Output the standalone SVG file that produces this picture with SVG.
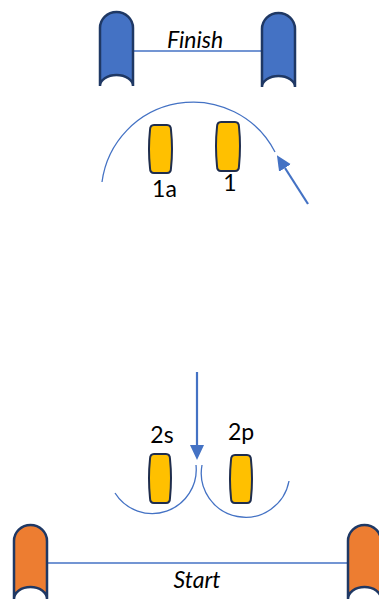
<svg xmlns="http://www.w3.org/2000/svg" width="379" height="599" viewBox="0 0 379 599">
  <style>
    .pylon-blue { fill: #4472C4; stroke: #1F3864; stroke-width: 2.5; }
    .pylon-orange { fill: #ED7D31; stroke: #1F3864; stroke-width: 2.5; }
    .buoy { fill: #FFC000; stroke: #1F2D4D; stroke-width: 2; }
    .thin { fill: none; stroke: #4472C4; stroke-width: 1.3; }
    .arrow { fill: none; stroke: #4472C4; stroke-width: 2.2; }
    .lbl { font-family: "Lato", "Liberation Sans", sans-serif; font-size: 23px; fill: #000; text-anchor: middle; }
    .it { font-style: italic; }
  </style>
  <defs>
    <marker id="ah" markerUnits="userSpaceOnUse" markerWidth="15" markerHeight="15" refX="0" refY="7" orient="auto" viewBox="0 0 15 14">
      <path d="M0,0 L15,7 L0,14 Z" fill="#4472C4"/>
    </marker>
  </defs>

  <g id="connectors">
    <line class="thin" x1="133" y1="51" x2="263" y2="51"/>
    <line class="thin" x1="47" y1="563" x2="348" y2="563"/>
    <path class="thin" d="M102,182 A92,92 0 0 1 275,152"/>
    <path class="thin" d="M115,493 A44,44 0 0 0 196,465"/>
    <path class="thin" d="M202,465 A44,44 0 0 0 289,481"/>
    <line class="arrow" x1="308" y1="204" x2="285" y2="168" marker-end="url(#ah)"/>
    <line class="arrow" x1="197" y1="372" x2="197" y2="445" marker-end="url(#ah)"/>
  </g>

  <g id="finish-left">
    <path class="pylon-blue" d="M100,86 L100,28 A16.5,16 0 0 1 133,28 L133,86 A16.5,11 0 0 0 100,86 Z"/>
  </g>
  <g id="finish-right">
    <path class="pylon-blue" d="M262,87 L262,29 A16.5,16 0 0 1 295,29 L295,87 A16.5,11 0 0 0 262,87 Z"/>
  </g>
  <g id="finish-label">
    <text class="lbl it" x="195" y="48">Finish</text>
  </g>

  <g id="buoy-1a">
    <path class="buoy" d="M154,125 L167,125 Q171,125 171,130 Q173,149 171,168 Q171,173 167,173 L154,173 Q150,173 150,168 Q148,149 150,130 Q150,125 154,125 Z"/>
    <text class="lbl" x="164.5" y="197">1a</text>
  </g>
  <g id="buoy-1">
    <path class="buoy" d="M221,122 L235,122 Q239,122 239,127 Q241,146 239,166 Q239,171 235,171 L221,171 Q217,171 217,166 Q215,146 217,127 Q217,122 221,122 Z"/>
    <text class="lbl" x="230" y="191">1</text>
  </g>
  <g id="buoy-2s">
    <path class="buoy" d="M154,454 L166,454 Q170,454 170,459 Q172,478 170,498 Q170,503 166,503 L154,503 Q150,503 150,498 Q148,478 150,459 Q150,454 154,454 Z"/>
    <text class="lbl" x="162" y="443">2s</text>
  </g>
  <g id="buoy-2p">
    <path class="buoy" d="M235,455 L247,455 Q251,455 251,460 Q253,479 251,498 Q251,503 247,503 L235,503 Q231,503 231,498 Q229,479 231,460 Q231,455 235,455 Z"/>
    <text class="lbl" x="241" y="440">2p</text>
  </g>

  <g id="start-left">
    <path class="pylon-orange" d="M14,599 L14,541 A16.5,16 0 0 1 47,541 L47,599 A16.5,12 0 0 0 14,599 Z"/>
  </g>
  <g id="start-right">
    <path class="pylon-orange" d="M348,599 L348,541 A16.5,16 0 0 1 381,541 L381,599 A16.5,12 0 0 0 348,599 Z"/>
  </g>
  <g id="start-label">
    <text class="lbl it" x="197" y="588">Start</text>
  </g>
</svg>
